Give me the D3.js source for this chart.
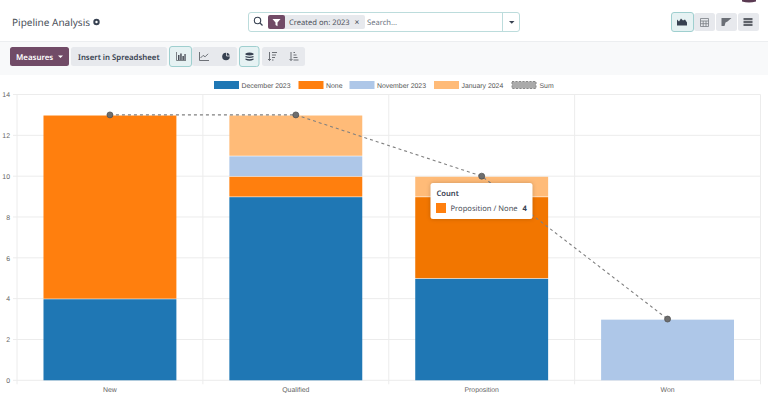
<!DOCTYPE html>
<html>
<head>
<meta charset="utf-8">
<script src="https://cdn.jsdelivr.net/npm/d3@7"></script>
<style>
  html, body { margin: 0; padding: 0; background: #fff; overflow: hidden; }
  text { text-rendering: geometricPrecision; }
  .ui { font-family: "Noto Sans", sans-serif; }
  .chart-text { font-family: "Liberation Sans", Arial, sans-serif; font-size: 6.9px; fill: #666; }
</style>
</head>
<body>
<div id="chart"></div>
<script>
var stages = ["New", "Qualified", "Proposition", "Won"];
var seriesNames = ["December 2023", "None", "November 2023", "January 2024"];
var december = [4, 9, 5, 0];
var none = [9, 1, 4, 0];
var november = [0, 1, 0, 3];
var january = [0, 2, 1, 0];
var sums = [13, 13, 10, 3];
var colors = ["#1f77b4", "#ff7f0e", "#aec7e8", "#ffbb78"];
var yTicks = [0, 2, 4, 6, 8, 10, 12, 14];

var width = 768, height = 393;
var margin = { top: 94.5, right: 7.5, bottom: 12.7, left: 17 };

var svg = d3.select("#chart").append("svg")
    .attr("width", width)
    .attr("height", height)
    .style("display", "block");

// page furniture
svg.append("rect").attr("x", 0).attr("y", 42).attr("width", width).attr("height", 33).attr("fill", "#f8f9fa");
svg.append("line").attr("x1", 0).attr("x2", width).attr("y1", 41.5).attr("y2", 41.5).attr("stroke", "#eceef0");

function uiText(x, y, text, size, color, weight) {
  return svg.append("text").attr("class", "ui").attr("x", x).attr("y", y)
    .attr("font-size", size).attr("fill", color).attr("font-weight", weight || 400).text(text);
}
function box(x, y, w, h, fill, stroke, r) {
  return svg.append("rect").attr("x", x).attr("y", y).attr("width", w).attr("height", h)
    .attr("rx", r === undefined ? 2.5 : r).attr("fill", fill).attr("stroke", stroke || "none");
}
function icon(d, color) {
  return svg.append("path").attr("d", d).attr("fill", color || "#4a4f59");
}

uiText(12, 25.5, "Pipeline Analysis", 10, "#4a4f59");
svg.append("circle").attr("cx", 96.5).attr("cy", 22).attr("r", 2.2).attr("fill", "none").attr("stroke", "#374151").attr("stroke-width", 2);

// search bar
box(248.5, 12.5, 271, 19, "#fff", "#bcdcdc");
svg.append("line").attr("x1", 502.5).attr("x2", 502.5).attr("y1", 13).attr("y2", 31).attr("stroke", "#bcdcdc");
svg.append("circle").attr("cx", 257.5).attr("cy", 20.5).attr("r", 3.2).attr("fill", "none").attr("stroke", "#374151").attr("stroke-width", 1.1);
svg.append("line").attr("x1", 260).attr("y1", 23).attr("x2", 262.5).attr("y2", 25.5).attr("stroke", "#374151").attr("stroke-width", 1.3);
box(283, 15, 82, 14, "#e7e9ed", null, 2);
box(268, 15, 17, 14, "#714b67", null, 2);
icon("M272.5 19h8l-3 3.6v3.6l-2-1.2v-2.4z", "#fff");
uiText(289, 24.7, "Created on: 2023", 7.6, "#4a4f59");
uiText(354.5, 24.7, "×", 8.5, "#4a4f59");
uiText(367, 24.7, "Search...", 7.6, "#6b7280");
icon("M509 21h5.5l-2.75 2.8z", "#374151");

// view switcher, top right
box(671.5, 12.5, 22, 19, "#e6f2f3", "#9fcfcf");
box(694, 13, 21, 18, "#e7e9ed", null);
box(716, 13, 21, 18, "#e7e9ed", null);
box(738, 13, 21, 18, "#e7e9ed", null);
icon("M677 25.5v-6l2 2 2-3 2 2 2-1 2 3v3z", "#374151");
svg.append("path").attr("d", "M700.5 18.5h8v8h-8zM700.5 21h8M700.5 23.7h8M703.2 21v5.5M706 21v5.5").attr("fill", "none").attr("stroke", "#7a7d84").attr("stroke-width", 0.8);
icon("M721.5 18h10l-4 3.5-2 1-1 3.5h-3z", "#6b6f76");
icon("M743.5 18h9v2.2h-9zM743.5 20.9h9v2.2h-9zM743.5 23.8h9v2.2h-9z", "#5f636a");

// toolbar
box(10, 47, 59, 19, "#714b67", null);
uiText(16, 59.5, "Measures", 7.9, "#fff", 600);
icon("M58 55.5h5l-2.5 2.6z", "#fff");
box(71, 47, 96, 19, "#e7e9ed", null);
uiText(78, 59.5, "Insert in Spreadsheet", 7.8, "#374151", 600);
box(192, 47, 45, 19, "#e7e9ed", null);
box(169.5, 46.5, 22, 20, "#e6f2f3", "#9fcfcf");
box(239.5, 46.5, 19.5, 20, "#e6f2f3", "#9fcfcf");
box(262, 47, 43, 19, "#e7e9ed", null);
svg.append("path").attr("d", "M176.5 52v8.5h9.5").attr("fill", "none").attr("stroke", "#5f636a").attr("stroke-width", 0.8);
icon("M178 55h1.5v5H178zM180.2 53.5h1.5v6.5h-1.5zM182.4 56h1.5v4h-1.5zM184.4 54h1.3v6h-1.3z", "#4a4f59");
svg.append("path").attr("d", "M199.5 52v8.5h9.5M200.5 58l2.6-2.6 2 1.4 3-3").attr("fill", "none").attr("stroke", "#5f636a").attr("stroke-width", 0.9);
svg.append("circle").attr("cx", 226).attr("cy", 56.5).attr("r", 3.8).attr("fill", "#374151");
svg.append("path").attr("d", "M226.5 52v4h4").attr("fill", "none").attr("stroke", "#e7e9ed").attr("stroke-width", 0.8);
icon("M245.5 53.5q4-2 8 0v1.3q-4 1.6-8 0zM245.5 55.9q4 1.6 8 0v1.4q-4 1.6-8 0zM245.5 58.4q4 1.6 8 0v1.3q-4 2-8 0z", "#374151");
svg.append("path").attr("d", "M269.5 52v8.5M268 59l1.5 1.5 1.5-1.5M272 52.5h5M272 55h4M272 57.5h3M272 60h1.5").attr("fill", "none").attr("stroke", "#5f636a").attr("stroke-width", 0.9);
svg.append("path").attr("d", "M291 52v8.5M289.5 59l1.5 1.5 1.5-1.5M293.5 52.5h1.5M293.5 55h3M293.5 57.5h4M293.5 60h5").attr("fill", "none").attr("stroke", "#5f636a").attr("stroke-width", 0.9);
icon("M742 0h14v1.5q-7 2-14 0z", "#5a3a52");

// chart
var innerW = width - margin.left - margin.right;
var plotBottom = height - margin.bottom;

var x = d3.scaleBand().domain(stages).range([margin.left, margin.left + innerW]);
var y = d3.scaleLinear().domain([0, 14]).range([plotBottom, margin.top]);

var barW = x.bandwidth() * 0.715;

// grid
svg.append("g").selectAll("line").data(yTicks).enter().append("line")
    .attr("x1", margin.left - 4).attr("x2", margin.left + innerW)
    .attr("y1", function(d) { return y(d); }).attr("y2", function(d) { return y(d); })
    .attr("stroke", "#ececec").attr("stroke-width", 1);

var gridX = stages.map(function(d) { return x(d); }).concat([margin.left + innerW]);
svg.append("g").selectAll("line").data(gridX).enter().append("line")
    .attr("x1", function(d) { return d; }).attr("x2", function(d) { return d; })
    .attr("y1", margin.top).attr("y2", plotBottom + 4)
    .attr("stroke", "#ececec").attr("stroke-width", 1);

// axes
var yAxis = d3.axisLeft(y).tickValues(yTicks).tickSize(0).tickPadding(7);
var xAxis = d3.axisBottom(x).tickSize(0).tickPadding(6.5);

svg.append("g").attr("transform", "translate(" + margin.left + ",0)").call(yAxis)
  .call(function(g) { g.select(".domain").remove(); })
  .selectAll("text").attr("class", "chart-text");

svg.append("g").attr("transform", "translate(0," + plotBottom + ")").call(xAxis)
  .call(function(g) { g.select(".domain").remove(); })
  .selectAll("text").attr("class", "chart-text");

// stacked bars
var rows = stages.map(function(s, i) {
  return { stage: s, "December 2023": december[i], "None": none[i], "November 2023": november[i], "January 2024": january[i] };
});
var stack = d3.stack().keys(seriesNames)(rows);
var color = d3.scaleOrdinal().domain(seriesNames).range(colors);

var layers = svg.append("g").selectAll("g").data(stack).enter().append("g");

// top edge is inset a little, the segments show a thin pale seam in the original
var seam = 0.6;
layers.selectAll("rect").data(function(d) {
    return d.filter(function(p) { return p[1] > p[0]; })
      .map(function(p) { return { key: d.key, stage: p.data.stage, y0: p[0], y1: p[1] }; });
  }).enter().append("rect")
    .attr("x", function(d) { return x(d.stage) + (x.bandwidth() - barW) / 2; })
    .attr("width", barW)
    .attr("y", function(d) { return y(d.y1) + seam; })
    .attr("height", function(d) { return y(d.y0) - y(d.y1) - seam; })
    // hovered segment is shown a bit darker
    .attr("fill", function(d) { return d.stage == "Proposition" && d.key == "None" ? "#f27600" : color(d.key); });

// sum line
var line = d3.line()
    .x(function(d, i) { return x(stages[i]) + x.bandwidth() / 2; })
    .y(function(d) { return y(d); });

svg.append("path").datum(sums)
    .attr("fill", "none").attr("stroke", "#808080").attr("stroke-width", 1.1)
    .attr("stroke-dasharray", "3,3").attr("d", line);

svg.append("g").selectAll("circle").data(sums).enter().append("circle")
    .attr("cx", function(d, i) { return x(stages[i]) + x.bandwidth() / 2; })
    .attr("cy", function(d) { return y(d); })
    .attr("r", 3).attr("fill", "#6e6e6e").attr("stroke", "#4d4d4d").attr("stroke-width", 0.7);

// legend
var legendX = [214, 298.5, 349.5, 434];
var legend = svg.append("g").selectAll("g").data(seriesNames).enter().append("g")
    .attr("transform", function(d, i) { return "translate(" + legendX[i] + ",81)"; });
legend.append("rect").attr("width", 25).attr("height", 8).attr("fill", function(d) { return color(d); });
legend.append("text").attr("class", "chart-text").attr("x", 27.5).attr("y", 6.5).style("fill", "#555").text(function(d) { return d; });

var sumLegend = svg.append("g").attr("transform", "translate(511.5,81)");
sumLegend.append("rect").attr("x", 0.5).attr("y", 0.5).attr("width", 24).attr("height", 7)
    .attr("fill", "#aaa").attr("stroke", "#888").attr("stroke-dasharray", "2,1.5");
sumLegend.append("text").attr("class", "chart-text").attr("x", 28).attr("y", 6.5).style("fill", "#555").text("Sum");

// tooltip
var tipX = 430.5, tipY = 183;
var tip = svg.append("g");
tip.append("rect").attr("x", tipX).attr("y", tipY).attr("width", 102).attr("height", 36).attr("rx", 2.5)
    .attr("fill", "#fff").style("filter", "drop-shadow(0 0 2px rgba(0,0,0,.2))");
tip.append("text").attr("class", "ui").attr("x", tipX + 6).attr("y", tipY + 13).attr("font-size", 7.6).attr("font-weight", 600).attr("fill", "#374151").text("Count");
tip.append("rect").attr("x", tipX + 5.5).attr("y", tipY + 20).attr("width", 10).attr("height", 10).attr("fill", colors[1]);
tip.append("text").attr("class", "ui").attr("x", tipX + 20).attr("y", tipY + 27.5).attr("font-size", 7.6).attr("fill", "#4a4f59").text(stages[2] + " / " + seriesNames[1]);
tip.append("text").attr("class", "ui").attr("x", tipX + 92).attr("y", tipY + 27.5).attr("font-size", 7.6).attr("font-weight", 700).attr("fill", "#374151").text(none[2]);
</script>
</body>
</html>
